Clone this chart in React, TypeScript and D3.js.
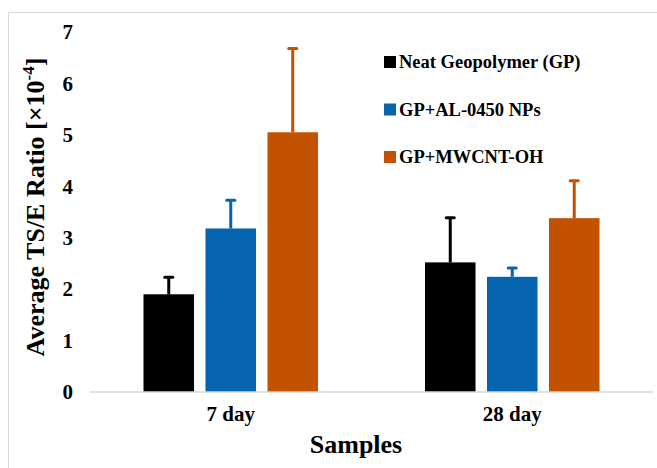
import React from 'react';
import * as d3 from 'd3';

const categories = ['7 day', '28 day'];
const series = ['Neat Geopolymer (GP)', 'GP+AL-0450 NPs', 'GP+MWCNT-OH'];
const colors = ['#000000', '#0563B0', '#C25100'];
// values[series][category]
const values = [
  [1.9, 2.52],
  [3.18, 2.24],
  [5.05, 3.38],
];
const errors = [
  [0.33, 0.87],
  [0.55, 0.17],
  [1.63, 0.73],
];
const yTicks = [0, 1, 2, 3, 4, 5, 6, 7];

const W = 657;
const H = 468;
const font = "'Liberation Serif', 'DejaVu Serif', serif";

export default function App() {
  const x = d3.scaleBand().domain(categories).range([90, 653]);
  const xs = d3.scaleBand().domain(series).range([-87.25, 87.25]).paddingInner(0.185);
  const y = d3.scaleLinear().domain([0, 7]).range([392, 32]);

  return (
    <svg width={W} height={H} style={{ position: 'absolute', left: 0, top: 0, fontFamily: font }}>
      <rect x={0} y={0} width={W} height={H} fill="#fff" />
      <rect x={8.5} y={12.5} width={700} height={500} fill="none" stroke="#D9D9D9" />

      {/* bars */}
      {series.map((s, si) =>
        categories.map((c, ci) => {
          const bx = x(c)! + x.bandwidth() / 2 + xs(s)!;
          const v = values[si][ci];
          const top = y(v);
          const cx = bx + xs.bandwidth() / 2;
          const et = y(v + errors[si][ci]);
          return (
            <g key={s + c}>
              <rect x={bx} y={top} width={xs.bandwidth()} height={y(0) - top} fill={colors[si]} />
              <line x1={cx} x2={cx} y1={top} y2={et} stroke={colors[si]} strokeWidth={3} />
              <line x1={cx - 4} x2={cx + 4} y1={et} y2={et} stroke={colors[si]} strokeWidth={3} strokeLinecap="round" />
            </g>
          );
        })
      )}

      {/* axis line */}
      <line x1={90} x2={653} y1={y(0)} y2={y(0)} stroke="#D9D9D9" strokeWidth={1.5} />

      {/* y ticks */}
      {yTicks.map((t) => (
        <text key={t} x={73} y={y(t)} dy="0.35em" textAnchor="end" fontSize={21} fontWeight="bold">
          {t}
        </text>
      ))}

      {/* x ticks */}
      {categories.map((c) => (
        <text key={c} x={x(c)! + x.bandwidth() / 2} y={421} textAnchor="middle" fontSize={21} fontWeight="bold">
          {c}
        </text>
      ))}

      <text x={356} y={453} textAnchor="middle" fontSize={26} fontWeight="bold">
        Samples
      </text>

      <text transform="translate(44,207) rotate(-90)" textAnchor="middle" fontSize={26} fontWeight="bold">
        Average TS/E Ratio [×10<tspan dy={-10} fontSize={17}>-4</tspan><tspan dy={10}>]</tspan>
      </text>

      {/* legend */}
      {series.map((s, i) => {
        const ly = 62 + i * 47.5;
        return (
          <g key={s}>
            <rect x={384} y={ly - 6} width={12} height={12} fill={colors[i]} />
            <text x={399} y={ly} dy="0.35em" fontSize={18.5} fontWeight="bold">
              {s}
            </text>
          </g>
        );
      })}
    </svg>
  );
}
